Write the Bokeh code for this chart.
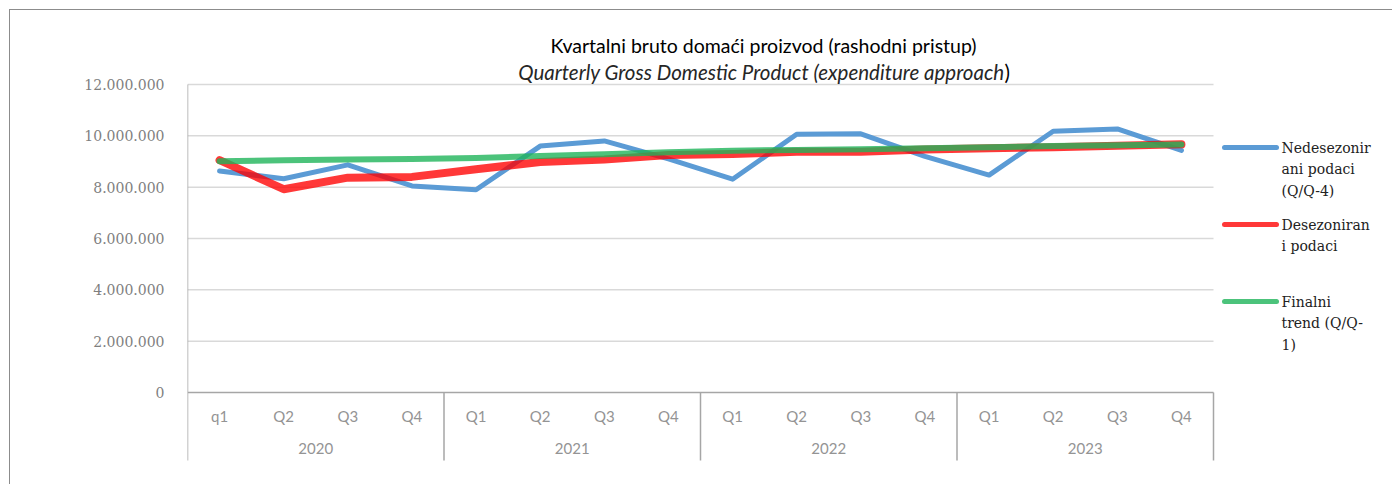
from bokeh.plotting import figure
from bokeh.models import Range1d, FixedTicker, CustomJSTickFormatter
from bokeh.core.properties import value
from bokeh.embed import file_html
from bokeh.resources import INLINE

# ---------------- data ----------------
years = ["2020", "2021", "2022", "2023"]
quarter_labels = ["q1", "Q2", "Q3", "Q4",
                  "Q1", "Q2", "Q3", "Q4",
                  "Q1", "Q2", "Q3", "Q4",
                  "Q1", "Q2", "Q3", "Q4"]
nedesezonirani = [8630000, 8330000, 8870000, 8050000, 7900000, 9600000, 9800000, 9100000,
                  8310000, 10060000, 10080000, 9200000, 8470000, 10180000, 10270000, 9430000]
desezonirani = [9050000, 7920000, 8370000, 8400000, 8700000, 8980000, 9080000, 9250000,
                9290000, 9380000, 9380000, 9470000, 9520000, 9560000, 9610000, 9670000]
finalni_trend = [9010000, 9050000, 9080000, 9100000, 9140000, 9210000, 9280000, 9360000,
                 9420000, 9450000, 9480000, 9520000, 9560000, 9600000, 9630000, 9660000]
y_ticks = [0, 2000000, 4000000, 6000000, 8000000, 10000000, 12000000]
series_names = ["Nedesezonir\nani podaci\n(Q/Q-4)", "Desezoniran\ni podaci", "Finalni\ntrend (Q/Q-\n1)"]
title_text = "Kvartalni bruto domaći proizvod (rashodni pristup)"
subtitle_text = "Quarterly Gross Domestic Product (expenditure approach"

# ---------------- layout (page pixels) ----------------
MARGIN = 9               # css margin of the figure element
OX, OY = MARGIN + 1, MARGIN + 1   # canvas origin on the page (after 1px border)
FIG_W, FIG_H = 1383, 475
FL = 187                 # frame left
FR = OX + FIG_W          # frame right
FT = OY
FB = OY + FIG_H
X0_PX, XN_PX = 187, 1213  # category axis extent
Y0_PX, YMAX_PX = 392, 84  # value 0 and 12.000.000
n = len(quarter_labels)
qw = (XN_PX - X0_PX) / n
ymax = y_ticks[-1]

def X(px):
    return (px - X0_PX) / qw

def Y(py):
    return (Y0_PX - py) * ymax / (Y0_PX - YMAX_PX)

xs = [i + 0.5 for i in range(n)]

p = figure(width=FIG_W, height=FIG_H, output_backend="svg", toolbar_location=None,
           x_range=Range1d(X(FL), X(FR)), y_range=Range1d(Y(FB), Y(FT)),
           x_axis_type=None, min_border_left=FL - OX, min_border_right=0,
           min_border_top=0, min_border_bottom=0)
p.styles = {"border-top": "1px solid #8c8c8c", "border-left": "1px solid #8c8c8c",
            "margin-left": f"{MARGIN}px", "margin-top": f"{MARGIN}px"}
p.outline_line_color = None
p.grid.visible = False

ax = p.yaxis[0]
ax.ticker = FixedTicker(ticks=y_ticks)
ax.formatter = CustomJSTickFormatter(code="return Math.round(tick).toString().replace(/\\B(?=(\\d{3})+(?!\\d))/g, '.');")
ax.axis_line_color = None
ax.major_tick_line_color = None
ax.minor_tick_line_color = None
ax.major_label_standoff = 17
ax.major_label_text_font = "DejaVu Serif"
ax.major_label_text_font_size = "14px"
ax.major_label_text_color = "#7f7f7f"

GRID = "#d9d9d9"
AXC = "#a6a6a6"
# gridlines
p.segment(x0=[0] * (len(y_ticks) - 1), x1=[n] * (len(y_ticks) - 1),
          y0=y_ticks[1:], y1=y_ticks[1:], line_color=GRID, line_width=1.5)
# category axis line
p.segment(x0=[0], x1=[n], y0=[0], y1=[0], line_color=AXC, line_width=1.5)
# value axis line
p.segment(x0=[0], x1=[0], y0=[0], y1=[ymax], line_color=AXC, line_width=1.5)
# group separators
per = n // len(years)
seps = [k * per for k in range(len(years) + 1)]
p.segment(x0=seps, x1=seps, y0=[0] * len(seps), y1=[Y(460)] * len(seps),
          line_color=AXC, line_width=1.5)

# category labels
p.text(x=xs, y=[Y(415)] * n, text=quarter_labels, text_font=value("Lato"),
       text_font_size="15px", text_color="#949494", text_align="center", text_baseline="middle")
p.text(x=[k * per + per / 2 for k in range(len(years))], y=[Y(448)] * len(years), text=years,
       text_font=value("Lato"), text_font_size="15px", text_color="#949494",
       text_align="center", text_baseline="middle")

# series
BLUE, RED, GREEN = "#5B9BD5", "#FF0000", "#1FB45A"
p.line(xs, nedesezonirani, line_color=BLUE, line_width=5, line_cap="round", line_join="round")
p.line(xs, desezonirani, line_color=RED, line_alpha=0.78, line_width=8, line_cap="round", line_join="round")
p.line(xs, finalni_trend, line_color=GREEN, line_alpha=0.8, line_width=6, line_cap="round", line_join="round")

# title
p.text(x=[X(763)], y=[Y(45)], text=[title_text], text_font=value("Lato"), text_font_size="19.5px",
       text_color="#000000", text_align="center", text_baseline="middle")
p.text(x=[X(1004)], y=[Y(71)], text=[subtitle_text], text_font=value("Lato"), text_font_size="20.5px",
       text_font_style="italic", text_color="#262626", text_align="right", text_baseline="middle")
p.text(x=[X(1004)], y=[Y(71)], text=[")"], text_font=value("Lato"), text_font_size="20.5px",
       text_color="#000000", text_align="left", text_baseline="middle")

# legend
leg_y = [147, 224, 301]
leg_alpha = [1.0, 0.78, 0.8]
for name, col, a, ly in zip(series_names, [BLUE, RED, GREEN], leg_alpha, leg_y):
    p.segment(x0=[X(1224)], x1=[X(1276)], y0=[Y(ly)], y1=[Y(ly)], line_color=col,
              line_alpha=a, line_width=5, line_cap="round")
    lines = name.split("\n")
    p.text(x=[X(1281)] * len(lines), y=[Y(ly + 21.7 * j) for j in range(len(lines))], text=lines,
           text_font=value("DejaVu Serif"), text_font_size="14px", text_color="#222222",
           text_align="left", text_baseline="middle")

open("out.html", "w").write(file_html(p, INLINE))
